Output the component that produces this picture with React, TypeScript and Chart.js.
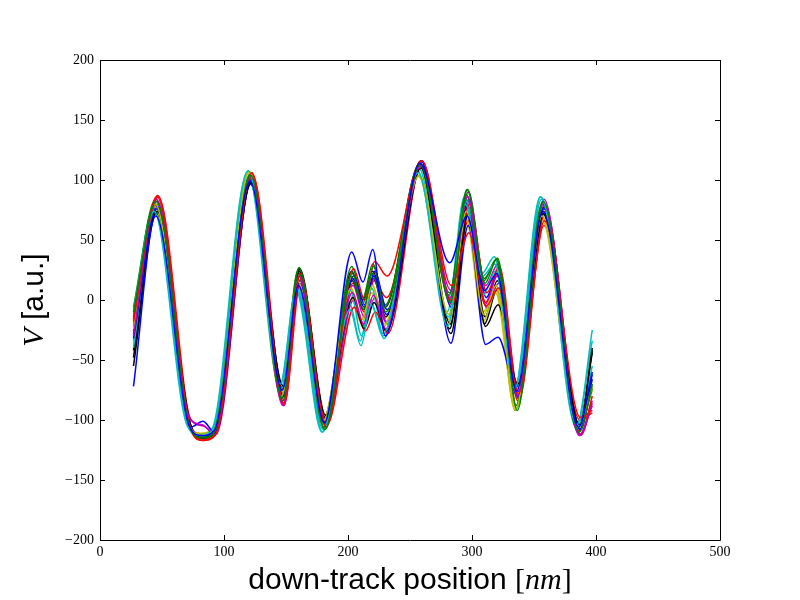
import React, { useEffect, useRef } from "react";
import { Chart, registerables } from "chart.js";

Chart.register(...registerables);

// down-track positions (nm) shared by every run
const positions = [27, 45, 72, 82, 92, 121, 147, 160, 181, 203, 212, 220, 230, 258, 282, 296, 310, 320, 336, 357, 386, 397];

const run01 = [-72, 70, -105, -113, -109, 99, -75, 12, -102, 40, 15, 42, -30, 114, 31, 70, 8, 22, -76, 74, -106, -60];
const run02 = [-10, 82, -106, -115, -110, 104, -84, 27, -108, 22, -8, 28, -10, 113, -2, 92, 14, 35, -92, 82, -110, -70];
const run03 = [-18, 87, -108, -117, -112, 106, -86, 22, -106, 26, 0, 32, 20, 116, 12, 56, -5, 10, -78, 66, -98, -92];
const run04 = [-8, 74, -104, -113, -109, 108, -70, 10, -110, -8, -38, -4, -28, 106, -22, 80, 20, 30, -74, 86, -104, -25];
const run05 = [-30, 84, -99, -104, -112, 102, -88, 20, -104, 6, -20, 4, -24, 112, 2, 86, -4, 20, -80, 80, -113, -88];
const run06 = [-24, 80, -103, -112, -110, 107, -80, 16, -100, 10, -16, 12, -20, 104, -12, 74, -12, 12, -90, 70, -106, -72];
const run07 = [-55, 74, -104, -115, -110, 97, -72, 26, -96, 2, -24, -2, -26, 110, -28, 72, -22, -4, -70, 72, -104, -40];
const run08 = [-32, 76, -106, -101, -111, 100, -80, 14, -104, 18, -6, 20, -12, 116, -36, 62, -37, -31, -80, 76, -108, -62];
const run09 = [-14, 80, -105, -114, -109, 103, -82, 24, -106, 20, -4, 22, -6, 112, 4, 88, 16, 34, -88, 80, -110, -74];
const run10 = [-22, 86, -107, -116, -111, 104, -84, 18, -104, -6, -26, -10, -28, 115, -4, 80, 6, 28, -82, 74, -112, -80];
const run11 = [-40, 72, -103, -112, -108, 102, -74, 12, -108, 8, -30, 10, -32, 110, -14, 84, 4, 24, -78, 84, -106, -55];
const run12 = [-28, 82, -104, -113, -110, 101, -86, 20, -102, 12, -14, 18, -18, 113, 8, 90, 12, 30, -82, 84, -112, -84];
const run13 = [-36, 78, -103, -111, -108, 106, -78, 14, -101, 4, -20, 6, -22, 103, -20, 68, -18, 6, -92, 68, -104, -76];
const run14 = [-42, 72, -104, -115, -110, 98, -74, 24, -98, 16, -8, 18, -14, 112, -20, 78, -14, 16, -72, 74, -104, -44];
const run15 = [-26, 78, -106, -114, -110, 100, -78, 16, -104, 20, -4, 24, -8, 116, -6, 84, 2, 26, -76, 78, -108, -66];
const run16 = [-6, 84, -105, -114, -110, 105, -82, 26, -108, 28, 2, 30, -4, 114, 6, 92, 18, 34, -90, 82, -110, -72];
const run17 = [-16, 86, -108, -117, -112, 106, -88, 20, -105, 14, -10, 16, 2, 116, 0, 66, -2, 22, -84, 62, -100, -94];
const run18 = [-12, 76, -104, -112, -108, 107, -72, 8, -110, -2, -34, 0, -30, 108, -10, 86, 22, 36, -76, 86, -106, -34];
const run19 = [-34, 80, -100, -105, -112, 103, -88, 22, -103, 0, -22, 2, -20, 112, -2, 82, -6, 14, -82, 80, -113, -86];
const run20 = [-20, 80, -103, -112, -110, 107, -80, 18, -100, 10, -16, 14, -16, 104, -16, 72, -10, 10, -92, 70, -106, -70];
const run21 = [-48, 74, -104, -115, -110, 97, -74, 22, -97, 24, 0, 24, -6, 114, -24, 80, -20, 8, -72, 72, -106, -42];

const runs = [run01, run02, run03, run04, run05, run06, run07, run08, run09, run10, run11, run12, run13, run14, run15, run16, run17, run18, run19, run20, run21];

// small down-track offset (nm) of each run's interior features
const runShifts = [0, 0.5, 1.5, -1.5, 0.5, -0.5, 1, 1, -0.5, 2, -1, 1, -1, 0.5, 1.5, 0, 1, -2, 1.5, -1, 0];

// matplotlib classic colour cycle: b g r c m y k
const colorCycle = ["#0000ff", "#008000", "#ff0000", "#00bfbf", "#bf00bf", "#bfbf00", "#000000"];

const xTicks = [0, 100, 200, 300, 400, 500];
const yTicks = [-200, -150, -100, -50, 0, 50, 100, 150, 200];

const SERIF = '"Liberation Serif", "DejaVu Serif", serif';
const SANS = '"Liberation Sans", Arial, sans-serif';

type Seg = { text: string; font: string };

function drawSegs(ctx: CanvasRenderingContext2D, segs: Seg[], cx: number, baseline: number) {
  let total = 0;
  const widths = segs.map((s) => {
    ctx.font = s.font;
    const w = ctx.measureText(s.text).width;
    total += w;
    return w;
  });
  let x = cx - total / 2;
  ctx.textAlign = "left";
  ctx.textBaseline = "alphabetic";
  segs.forEach((s, i) => {
    ctx.font = s.font;
    ctx.fillText(s.text, x, baseline);
    x += widths[i];
  });
}

const framePlugin = {
  id: "mplFrame",
  afterDraw(chart: any) {
    const { ctx, chartArea } = chart;
    const xs = chart.scales.x;
    const ys = chart.scales.y;
    const { left, right, top, bottom } = chartArea;
    ctx.save();
    ctx.strokeStyle = "#000";
    ctx.lineWidth = 1;
    ctx.beginPath();
    ctx.rect(Math.round(left) + 0.5, Math.round(top) + 0.5, Math.round(right - left), Math.round(bottom - top));
    ctx.stroke();
    const tl = 5;
    ctx.beginPath();
    xTicks.forEach((v) => {
      const px = Math.round(xs.getPixelForValue(v)) + 0.5;
      ctx.moveTo(px, bottom);
      ctx.lineTo(px, bottom - tl);
      ctx.moveTo(px, top);
      ctx.lineTo(px, top + tl);
    });
    yTicks.forEach((v) => {
      const py = Math.round(ys.getPixelForValue(v)) + 0.5;
      ctx.moveTo(left, py);
      ctx.lineTo(left + tl, py);
      ctx.moveTo(right, py);
      ctx.lineTo(right - tl, py);
    });
    ctx.stroke();

    ctx.fillStyle = "#000";
    // x-axis title
    drawSegs(
      ctx,
      [
        { text: "down-track position ", font: `30px ${SANS}` },
        { text: "[", font: `30px ${SERIF}` },
        { text: "nm", font: `italic 30px ${SERIF}` },
        { text: "]", font: `30px ${SERIF}` },
      ],
      (left + right) / 2,
      589
    );
    // y-axis title (rotated)
    ctx.translate(43, (top + bottom) / 2);
    ctx.rotate(-Math.PI / 2);
    drawSegs(
      ctx,
      [
        { text: "V", font: `italic 30px ${SERIF}` },
        { text: " [a.u.]", font: `30px ${SANS}` },
      ],
      0,
      0
    );
    ctx.restore();
  },
};

export default function App() {
  const ref = useRef<HTMLCanvasElement | null>(null);
  useEffect(() => {
    if (!ref.current) return;
    const last = positions.length - 1;
    const datasets = runs.map((vals, i) => ({
      label: `run ${i + 1}`,
      data: vals.map((v, j) => ({
        x: j === 0 || j === last ? positions[j] : positions[j] + runShifts[i],
        y: v,
      })),
      borderColor: colorCycle[i % colorCycle.length],
      backgroundColor: colorCycle[i % colorCycle.length],
      borderWidth: 1.5,
      pointRadius: 0,
      fill: false,
      cubicInterpolationMode: "monotone" as const,
    }));
    const chart = new Chart(ref.current, {
      type: "line",
      data: { datasets },
      options: {
        responsive: false,
        animation: false,
        devicePixelRatio: 1,
        layout: { padding: { left: 0, right: 80, top: 60, bottom: 0 } },
        plugins: { legend: { display: false }, tooltip: { enabled: false } },
        scales: {
          x: {
            type: "linear",
            min: 0,
            max: 500,
            grid: { display: false, drawTicks: false },
            border: { display: false },
            ticks: {
              stepSize: 100,
              padding: 4,
              color: "#000",
              font: { family: SERIF, size: 14 },
              maxRotation: 0,
              callback: (v: any) => String(v).replace("-", "\u2212"),
            },
            afterFit: (s: any) => {
              s.height = 60;
            },
          },
          y: {
            type: "linear",
            min: -200,
            max: 200,
            grid: { display: false, drawTicks: false },
            border: { display: false },
            ticks: {
              stepSize: 50,
              padding: 6,
              color: "#000",
              font: { family: SERIF, size: 14 },
              callback: (v: any) => String(v).replace("-", "\u2212"),
            },
            afterFit: (s: any) => {
              s.width = 100;
            },
          },
        },
      },
      plugins: [framePlugin],
    });
    return () => chart.destroy();
  }, []);
  return (
    <div style={{ position: "absolute", left: 0, top: 0, width: 800, height: 600, background: "#fff" }}>
      <canvas ref={ref} width={800} height={600} />
    </div>
  );
}
